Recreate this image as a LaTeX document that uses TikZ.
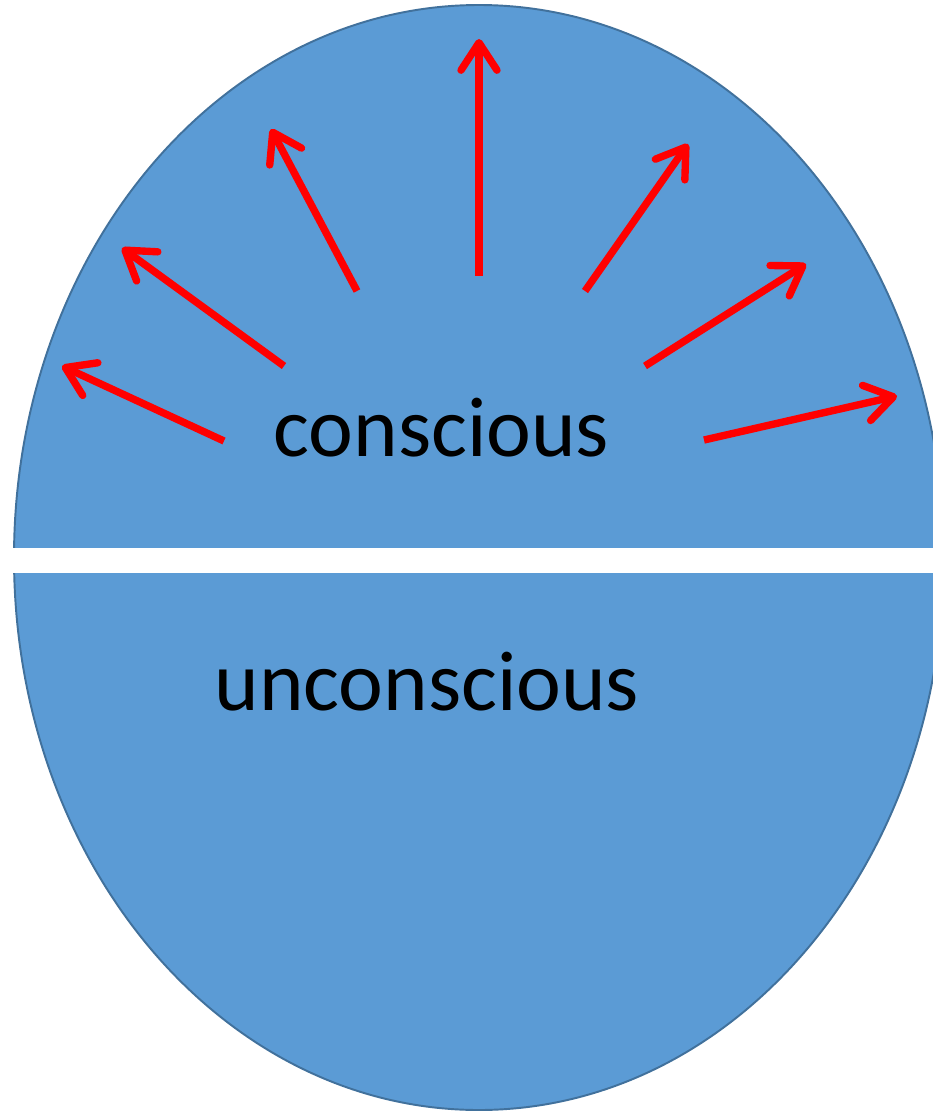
\documentclass[tikz,border=0pt]{standalone}
\usepackage{fontspec}
\setmainfont{Carlito}
\usetikzlibrary{arrows.meta}
\definecolor{mindblue}{RGB}{91,155,213}
\definecolor{mindedge}{RGB}{65,113,156}
\definecolor{rayred}{RGB}{255,0,0}
\tikzset{
  ray/.style={draw=rayred, line width=4.2pt,
    -{Straight Barb[length=0.55cm, width=0.72cm, round]}},
  layer/.style={font=\fontsize{48.3pt}{58pt}\selectfont, anchor=base, inner sep=0pt}
}
\begin{document}
\begin{tikzpicture}[x=0.02cm, y=-0.02cm]
        \clip (0,0) rectangle (933,1113);
        \fill[white] (0,0) rectangle (933,1113);
        % the mind
        \draw[mindedge, fill=mindblue, line width=1.1pt] (479,557.5) ellipse [x radius=465, y radius=552.5];
        \fill[white] (0,548) rectangle (933,573);
        \node[layer] (con) at (441.5,456) {conscious};
        \node[layer] (uncon) at (427,710) {unconscious};
        % rays
        \coordinate (t1) at (224,441); \coordinate (h1) at (62,366);
        \coordinate (t2) at (284,366); \coordinate (h2) at (122,248);
        \coordinate (t3) at (357,291); \coordinate (h3) at (271,129);
        \coordinate (t4) at (479,276); \coordinate (h4) at (479,39);
        \coordinate (t5) at (585,291); \coordinate (h5) at (688,144);
        \coordinate (t6) at (645,366); \coordinate (h6) at (806,264);
        \coordinate (t7) at (704,440); \coordinate (h7) at (897,396);
        \foreach \i in {1,...,7} \draw[ray] (t\i)--(h\i);
    \end{tikzpicture}
\end{document}
